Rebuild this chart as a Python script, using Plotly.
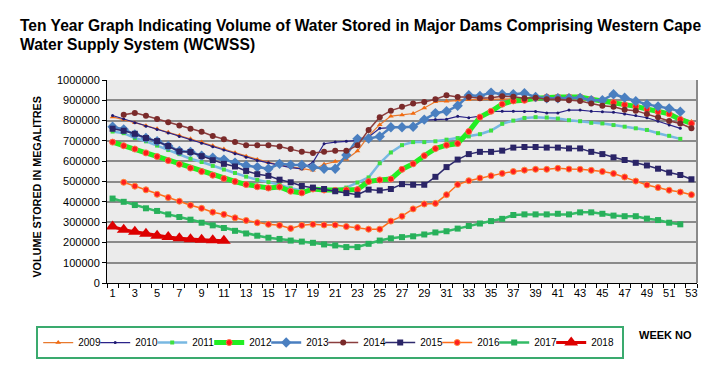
import plotly.graph_objects as go

weeks = list(range(1, 54))
N = None

y2009 = [818000, 805000, 790000, 775000, 760000, 742000, 726000, 710000, 694000, 676000,
         660000, 642000, 625000, 608000, 594000, 582000, 572000, 562000, 555000, 585000,
         598000, 610000, 650000, 725000, 780000, 822000, 828000, 835000, 862000, 893000,
         895000, 900000, 903000, 903000, 905000, 908000, 908000, 905000, 905000, 905000,
         905000, 905000, 903000, 900000, 897000, 890000, 882000, 872000, 860000, 848000,
         833000, 815000, 795000]
y2010 = [825000, 808000, 789000, 772000, 756000, 739000, 722000, 706000, 689000, 671000,
         655000, 637000, 620000, 604000, 592000, 580000, 568000, 562000, 595000, 686000,
         694000, 698000, 703000, 719000, 762000, 765000, 770000, 772000, 802000, 806000,
         807000, 821000, 814000, 822000, 844000, 846000, 846000, 845000, 845000, 838000,
         838000, 852000, 852000, 846000, 844000, 841000, 833000, 825000, 814000, 797000,
         778000, 762000, N]
y2011 = [746000, 738000, 714000, 698000, 677000, 655000, 635000, 612000, 596000, 577000,
         559000, 542000, 524000, 508000, 497000, 484000, 467000, 456000, 460000, 455000,
         460000, 470000, 495000, 520000, 590000, 643000, 679000, 694000, 694000, 698000,
         706000, 714000, 722000, 733000, 751000, 784000, 800000, 813000, 817000, 815000,
         810000, 802000, 797000, 789000, 786000, 778000, 770000, 762000, 754000, 738000,
         725000, 710000, N]
y2012 = [694000, 676000, 660000, 641000, 623000, 603000, 585000, 566000, 549000, 531000,
         515000, 500000, 485000, 474000, 468000, 473000, 452000, 444000, 463000, 458000,
         456000, 458000, 460000, 500000, 508000, 512000, 560000, 587000, 627000, 662000,
         679000, 687000, 746000, 817000, 846000, 881000, 897000, 900000, 910000, 916000,
         916000, 916000, 916000, 905000, 897000, 889000, 878000, 870000, 857000, 844000,
         833000, 806000, 786000]
y2013 = [770000, 757000, 732000, 714000, 698000, 675000, 650000, 646000, 627000, 617000,
         608000, 593000, 579000, 571000, 563000, 587000, 582000, 581000, 571000, 563000,
         563000, 630000, 710000, 712000, 722000, 767000, 767000, 770000, 805000, 837000,
         846000, 873000, 925000, 921000, 938000, 930000, 930000, 935000, 916000, 910000,
         910000, 910000, 912000, 900000, 900000, 930000, 913000, 895000, 880000, 870000,
         860000, 844000, N]
y2014 = [N, 829000, 838000, 824000, 808000, 792000, 776000, 760000, 745000, 724000,
         708000, 694000, 678000, 678000, 678000, 672000, 660000, 646000, 640000, 646000,
         651000, 651000, 678000, 754000, 817000, 849000, 868000, 884000, 892000, 905000,
         925000, 916000, 916000, 910000, 913000, 920000, 918000, 910000, 913000, 905000,
         905000, 900000, 897000, 884000, 873000, 868000, 854000, 849000, 833000, 817000,
         798000, 786000, 762000]
y2015 = [760000, 750000, 735000, 714000, 699000, 675000, 648000, 645000, 625000, 605000,
         587000, 574000, 552000, 536000, 528000, 509000, 496000, 478000, 470000, 463000,
         452000, 443000, 435000, 460000, 456000, 463000, 487000, 484000, 484000, 523000,
         571000, 608000, 635000, 646000, 646000, 652000, 667000, 670000, 670000, 667000,
         667000, 663000, 663000, 646000, 635000, 619000, 606000, 592000, 579000, 563000,
         544000, 532000, 511000]
y2016 = [N, 496000, 477000, 459000, 437000, 421000, 403000, 383000, 368000, 349000,
         338000, 321000, 308000, 297000, 289000, 284000, 269000, 284000, 289000, 286000,
         286000, 278000, 273000, 265000, 265000, 305000, 329000, 365000, 389000, 392000,
         435000, 485000, 504000, 517000, 528000, 540000, 549000, 556000, 560000, 560000,
         565000, 561000, 560000, 555000, 549000, 539000, 522000, 502000, 483000, 470000,
         457000, 448000, 435000]
y2017 = [416000, 400000, 384000, 368000, 355000, 338000, 325000, 312000, 297000, 284000,
         271000, 257000, 244000, 233000, 223000, 217000, 209000, 204000, 198000, 190000,
         185000, 177000, 177000, 193000, 209000, 220000, 226000, 230000, 239000, 249000,
         255000, 268000, 281000, 293000, 305000, 316000, 335000, 338000, 338000, 338000,
         341000, 338000, 348000, 348000, 341000, 332000, 329000, 329000, 317000, 310000,
         297000, 289000, N]
y2018 = [278000, 262000, 252000, 243000, 233000, 227000, 221000, 216000, 213000, 210000,
         208000]

x_tick_labels = [str(w) for w in range(1, 54, 2)]
y_ticks = list(range(0, 1000001, 100000))

series = [
    ("2009", y2009, dict(color="#e8792e", width=1.2), dict(symbol="triangle-up", size=5, color="#f26a10")),
    ("2010", y2010, dict(color="#2b2389", width=1.2), dict(symbol="circle", size=3, color="#1f1a70")),
    ("2011", y2011, dict(color="#78b8e2", width=2.5), dict(symbol="square", size=4, color="#3fe03f")),
    ("2012", y2012, dict(color="#22ee22", width=5), dict(symbol="circle", size=6, color="#ff1a1a", line=dict(color="#ff6a4a", width=1))),
    ("2013", y2013, dict(color="#4a7fc0", width=2.5), dict(symbol="diamond", size=8, color="#4a7fc0")),
    ("2014", y2014, dict(color="#8a3d3d", width=1.5), dict(symbol="circle", size=6, color="#7a2a2a")),
    ("2015", y2015, dict(color="#2e2a6e", width=1.5), dict(symbol="square", size=6, color="#2a2466")),
    ("2016", y2016, dict(color="#ff6d1a", width=1.5), dict(symbol="circle", size=6, color="#ff1f1f", line=dict(color="#ff8a3a", width=1))),
    ("2017", y2017, dict(color="#33bb66", width=2.5), dict(symbol="square", size=6, color="#27b05a")),
    ("2018", y2018, dict(color="#dd0000", width=3), dict(symbol="triangle-up", size=12, color="#dd0000")),
]

fig = go.Figure()
for i, (name, ys, line, marker) in enumerate(series):
    fig.add_trace(go.Scatter(
        x=weeks[:len(ys)], y=ys, name=name, mode="lines+markers",
        line=line, marker=marker, connectgaps=False,
        legendwidth=(26 if i == len(series) - 1 else 12),
    ))

font_family = "Liberation Sans, Arial, sans-serif"

fig.update_layout(
    width=720, height=371,
    margin=dict(l=107, r=23, t=80, b=79),
    paper_bgcolor="white",
    plot_bgcolor="#ebebeb",
    font=dict(family=font_family, size=11, color="black"),
    showlegend=True,
    legend=dict(
        orientation="h", x=-0.12, y=-0.212, xanchor="left", yanchor="top",
        bordercolor="#3aaa6e", borderwidth=2, bgcolor="white",
        font=dict(size=10), entrywidthmode="pixels",
        tracegroupgap=0,
    ),
    xaxis=dict(
        range=[0.5, 53.5], tickmode="array",
        tickvals=list(range(1, 54, 2)), ticktext=x_tick_labels,
        ticks="", showgrid=False, zeroline=False,
        showline=True, linecolor="black", linewidth=1,
        minor=dict(tick0=0.5, dtick=1, ticks="outside", ticklen=4, tickcolor="black", showgrid=False),
        tickfont=dict(size=11),
    ),
    yaxis=dict(
        range=[0, 1000000], tickmode="array", tickvals=y_ticks,
        tickformat="d", ticks="outside", ticklen=4, tickcolor="black",
        showgrid=True, gridcolor="#8a8a8a", gridwidth=2,
        zeroline=False, showline=True, linecolor="black", linewidth=1,
        tickfont=dict(size=11),
    ),
    shapes=[
        dict(type="line", xref="paper", yref="paper", x0=1, x1=1, y0=0, y1=1,
             line=dict(color="#8a8a8a", width=2)),
    ],
    annotations=[
        dict(text="<b>Ten Year Graph Indicating Volume of Water Stored in Major Dams Comprising Western Cape</b>",
             xref="paper", yref="paper", x=-0.1508, y=1.268, xanchor="left", yanchor="middle",
             showarrow=False, font=dict(size=15.6, family=font_family)),
        dict(text="<b>Water Supply System (WCWSS)</b>",
             xref="paper", yref="paper", x=-0.1508, y=1.176, xanchor="left", yanchor="middle",
             showarrow=False, font=dict(size=15.6, family=font_family)),
        dict(text="<b>VOLUME STORED IN MEGALITRES</b>", textangle=-90,
             xref="paper", yref="paper", x=-0.1186, y=0.475, xanchor="center", yanchor="middle",
             showarrow=False, font=dict(size=10.8, family=font_family)),
        dict(text="<b>WEEK NO</b>",
             xref="paper", yref="paper", x=0.947, y=-0.255, xanchor="center", yanchor="middle",
             showarrow=False, font=dict(size=11, family=font_family)),
    ],
)

fig.write_html("out.html", config={"displayModeBar": False},
               post_script="document.body.style.margin='0px';")
